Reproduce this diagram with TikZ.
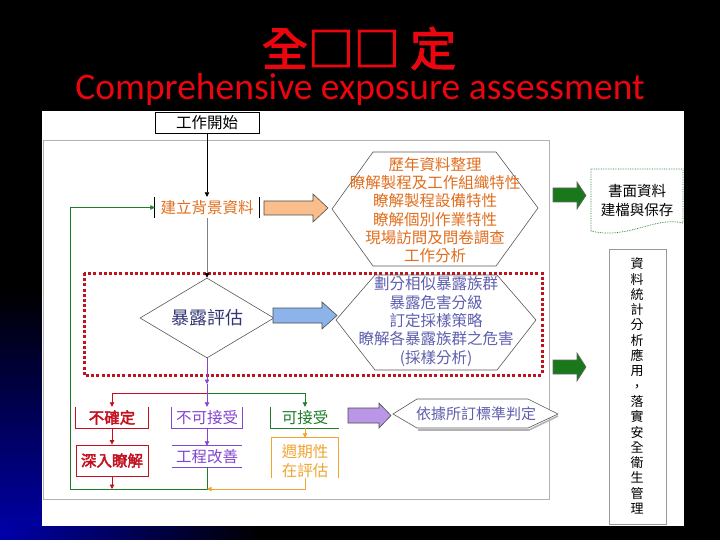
\documentclass[tikz,border=0pt]{standalone}
\usepackage{fontspec}
\setmainfont{Liberation Sans}
\newfontfamily\cjk{Noto Sans CJK TC}
\newfontfamily\cjkb[FakeBold=2.5]{Noto Sans CJK TC}
\newfontfamily\carlito{Carlito}
\usetikzlibrary{arrows.meta,shapes.geometric}
\definecolor{ttlred}{RGB}{235,5,15}
\definecolor{orgtxt}{RGB}{225,110,30}
\definecolor{hexblue}{RGB}{95,95,175}
\definecolor{navy}{RGB}{50,55,115}
\definecolor{drkred}{RGB}{195,15,30}
\definecolor{dotred}{RGB}{190,20,30}
\definecolor{purp}{RGB}{130,70,210}
\definecolor{grn}{RGB}{30,125,40}
\definecolor{orgline}{RGB}{240,165,50}
\definecolor{peach}{RGB}{250,190,140}
\definecolor{lblue}{RGB}{140,180,235}
\definecolor{lpurp}{RGB}{185,150,230}
\definecolor{dgreen}{RGB}{25,120,25}
\definecolor{bgblue}{RGB}{0,0,170}
\begin{document}
\begin{tikzpicture}[x=1pt,y=-1pt,
  >={Triangle[length=4.5pt,width=4.5pt]},
  flow/.style={font=\cjk\fontsize{15.5}{18.3}\selectfont, inner sep=0},
  flowb/.style={font=\cjkb\fontsize{15.5}{18.3}\selectfont, inner sep=0},
  rl/.style={draw=drkred, line width=0.8},
  pl/.style={draw=purp, line width=0.8},
  gl/.style={draw=grn, line width=0.8},
  ol/.style={draw=orgline, line width=0.8},
  blk/.style={draw=black!70, line width=0.6},
  hexa/.style={draw=black!65, line width=0.6}]
\useasboundingbox (0,0) rectangle (720,540);
% background
\fill[black] (0,0) rectangle (720,540);
\shade[top color=black, bottom color=bgblue] (0,290) rectangle (42,540);
\shade[left color=bgblue, right color=black] (0,526) rectangle (260,540);
\fill[white] (42,111) rectangle (684,526);
% titles
\node[font=\cjkb\fontsize{46}{46}\selectfont, text=ttlred, anchor=base, inner sep=0] (title) at (359,66) {全□□ 定};
\node[font=\carlito\fontsize{37.5}{40}\selectfont, text=ttlred, anchor=base, inner sep=0] (subtitle) at (360,100) {Comprehensive exposure assessment};
% frames
\draw[gray!60, line width=1] (43,141) rectangle (549,499);
\draw[dotred, line width=3, dash pattern=on 3pt off 2.2pt] (84,273) rectangle (542,375);
% start
\node[draw=black, line width=0.8, fill=white, minimum width=104, minimum height=21, flow] (start) at (207,122.5) {工作開始};
% background data
\node[minimum width=104, minimum height=21, flow, text=orgtxt] (bg) at (207,207.5) {建立背景資料};
\draw[black, line width=0.8] (bg.north west) -- (bg.south west) (bg.north east) -- (bg.south east);
% orange block arrow
\draw[blk, fill=peach] (264,201) -- (313,201) -- (313,194) -- (328,208) -- (313,222) -- (313,215) -- (264,215) -- cycle;
% hexagon 1
\draw[hexa] (332,209) -- (373,152) -- (496,152) -- (538,208) -- (496,266) -- (373,266) -- cycle;
\node[flow, align=center, text=orgtxt] (hexA) at (435,210) {歷年資料整理\\瞭解製程及工作組織特性\\瞭解製程設備特性\\瞭解個別作業特性\\現場訪問及問卷調查\\工作分析};
% green arrow 1
\draw[draw=black!60, line width=0.6, fill=dgreen] (553,188) -- (577,188) -- (577,182) -- (586,195.5) -- (577,209) -- (577,202) -- (553,202) -- cycle;
% document
\draw[grn, line width=0.7, densely dotted] (591,169) -- (683,169) -- (683,223) .. controls (655,216) and (628,240) .. (591,231) -- cycle;
\node[font=\cjk\fontsize{14.5}{19}\selectfont, align=center, inner sep=0] (doc) at (637,200.5) {書面資料\\建檔與保存};
% assessment diamond
\node[diamond, draw=black!65, line width=0.6, aspect=1.675, minimum width=134, minimum height=80, inner sep=0, font=\cjk\fontsize{18}{20}\selectfont, text=navy] (assess) at (207,318) {暴露評估};
% blue block arrow
\draw[blk, fill=lblue] (273,308) -- (322,308) -- (322,302) -- (337,315.5) -- (322,329) -- (322,323) -- (273,323) -- cycle;
% hexagon 2
\draw[hexa] (336,320) -- (375,275) -- (497,275) -- (536,320) -- (497,370) -- (375,370) -- cycle;
\node[flow, align=center, text=hexblue] (hexB) at (436,321.5) {劃分相似暴露族群\\暴露危害分級\\訂定採樣策略\\瞭解各暴露族群之危害\\(採樣分析)};
% green arrow 2
\draw[draw=black!60, line width=0.6, fill=dgreen] (553,360) -- (577,360) -- (577,353) -- (586,367) -- (577,381) -- (577,374) -- (553,374) -- cycle;
% management box
\node[draw=gray!80, line width=0.8, minimum width=57, minimum height=275, inner sep=0] (mgmt) at (637.5,386.5) {};
\node[font=\cjk\fontsize{13}{15.3}\selectfont, align=center, inner sep=0] (mgmttext) at (637,386) {資\\料\\統\\計\\分\\析\\應\\用\\，\\落\\實\\安\\全\\衛\\生\\管\\理};
% branch boxes
\node[minimum width=72, minimum height=21, flowb, text=drkred] (unc) at (112,417.5) {不確定};
\draw[rl] (unc.north west) -- (unc.south west) -- (unc.south east) -- (unc.north east);
\node[minimum width=70, minimum height=21, flow, text=purp] (unacc) at (207,417.5) {不可接受};
\draw[pl] (unacc.north west) -- (unacc.south west) -- (unacc.south east) -- (unacc.north east);
\node[minimum width=68, minimum height=21, flow, text=grn] (acc) at (305,417.5) {可接受};
\draw[gl] (acc.north west) -- (acc.south west) -- (acc.south east);
\node[draw=drkred, line width=0.8, minimum width=72, minimum height=31, flowb, text=drkred] (deep) at (112,460.5) {深入瞭解};
\node[minimum width=69, minimum height=21, flow, text=purp] (eng) at (207,456.5) {工程改善};
\draw[pl] (eng.north west) -- (eng.north east) (eng.south west) -- (eng.south east);
\node[minimum width=66, minimum height=40] (cyc) at (305,458) {};
\draw[ol] (cyc.south west) -- (cyc.north west) -- (cyc.north east) -- (cyc.south east);
\node[flow, align=center, text=orgline] (cyctext) at (305,461) {週期性\\在評估};
% purple block arrow + hexagon 3
\draw[blk, fill=lpurp] (348,408) -- (379,408) -- (379,403) -- (391,415.5) -- (379,428) -- (379,423) -- (348,423) -- cycle;
\draw[gray!60, line width=1.6] (418,430) -- (529,430) -- (558,416);
\draw[hexa, fill=white] (393,414) -- (417,399) -- (528,399) -- (558,414) -- (528,428) -- (417,428) -- cycle;
\node[font=\cjk\fontsize{15}{18}\selectfont, inner sep=0, text=hexblue] (hexC) at (476,413.5) {依據所訂標準判定};
% connectors
\coordinate (split) at (207,393);
\coordinate (mid) at (207,384);
\coordinate (loop) at (70,489);
\draw[black, line width=0.7, ->] (start.south) -- (bg.north);
\draw[gray, line width=0.6, -{Triangle[length=4.5pt,width=4.5pt,color=black]}] (bg.south) -- (assess.north);
\draw[rl, ->] (split) -| (unc.north);
\draw[gl, ->] (split) -| (acc.north);
\draw[pl, ->] (assess.south) -- (mid);
\draw[pl, ->] (mid) -- (unacc.north);
\draw[rl, ->] (unc.south) -- (deep.north);
\draw[pl, ->] (unacc.south) -- (eng.north);
\draw[ol, ->] (acc.south) -- (cyc.north);
\draw[gl, ->] (eng.south) |- (loop) |- (bg.west);
\draw[rl, ->] (deep.south) -- (deep.south |- loop);
\draw[ol, ->] (cyc.south) |- (eng.south |- loop);
\end{tikzpicture}
\end{document}
